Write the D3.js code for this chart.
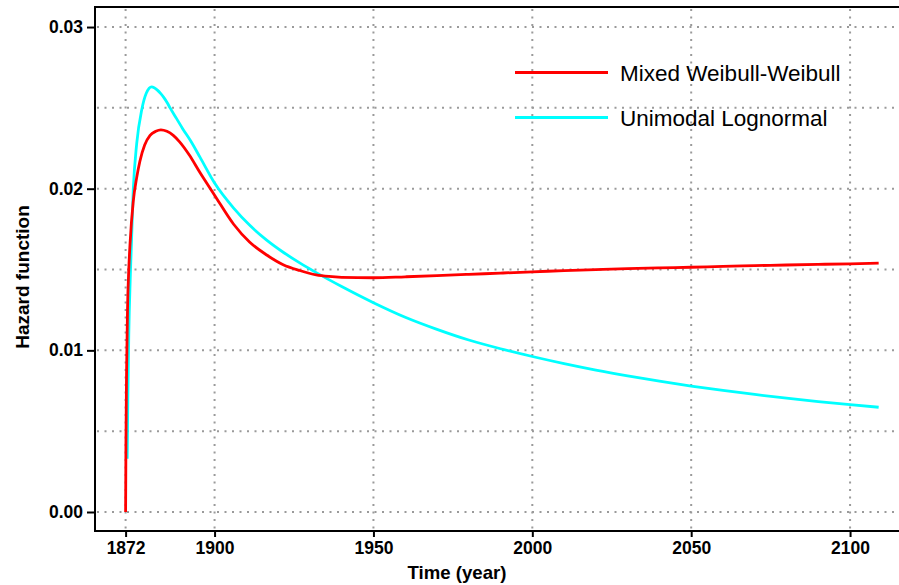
<!DOCTYPE html>
<html>
<head>
<meta charset="utf-8">
<script src="https://cdn.jsdelivr.net/npm/d3@7"></script>
<style>
  html, body { margin: 0; padding: 0; background: #fff; }
  svg { display: block; font-family: "Liberation Sans", Arial, sans-serif; }
</style>
</head>
<body>
<svg id="chart" width="899" height="585"></svg>
<script>
// ---- data ----
const seriesNames = ["Mixed Weibull-Weibull", "Unimodal Lognormal"];

const weibullYears  = [1872, 1872.1, 1872.3, 1872.6, 1873, 1873.4, 1874.4, 1875.5, 1876.5, 1878, 1879.7, 1881.5, 1883.1, 1885, 1887, 1889, 1892, 1895.4, 1900, 1906, 1911, 1916.4, 1921.6, 1926.8, 1932, 1936, 1940, 1950, 1960, 1970, 1980, 1990, 2000, 2010, 2020, 2030, 2040, 2050, 2060, 2070, 2080, 2090, 2100, 2109];
const weibullValues = [0, 0.004, 0.0085, 0.0125, 0.0150, 0.0166, 0.0192, 0.0207, 0.0217, 0.0227, 0.0233, 0.02355, 0.02364, 0.02355, 0.0233, 0.0229, 0.0221, 0.0210, 0.0196, 0.0178, 0.0167, 0.0159, 0.0153, 0.01494, 0.01467, 0.01457, 0.01452, 0.01449, 0.01455, 0.01462, 0.0147, 0.01478, 0.01486, 0.01493, 0.0150, 0.01506, 0.0151, 0.01514, 0.0152, 0.01524, 0.01528, 0.01532, 0.01535, 0.01539];

const lognormYears  = [1872.5, 1872.7, 1873, 1873.5, 1874.4, 1875.5, 1877.1, 1878.5, 1880.2, 1881, 1882, 1883, 1884, 1885, 1886, 1888, 1890, 1892.5, 1895.4, 1900, 1906, 1911, 1916.4, 1921.6, 1926.8, 1932, 1940, 1950, 1960, 1970, 1980, 1990, 2000, 2010, 2020, 2030, 2040, 2050, 2060, 2070, 2080, 2090, 2100, 2109];
const lognormValues = [0.0033, 0.007, 0.011, 0.0147, 0.0199, 0.0228, 0.0249, 0.0259, 0.0263, 0.02625, 0.0261, 0.0259, 0.02565, 0.02535, 0.0250, 0.02435, 0.0237, 0.02295, 0.02195, 0.02035, 0.0188, 0.01775, 0.01682, 0.01607, 0.01541, 0.01481, 0.01395, 0.01295, 0.01205, 0.0113, 0.01064, 0.0101, 0.00962, 0.00918, 0.00878, 0.00842, 0.00809, 0.00779, 0.00752, 0.00727, 0.00704, 0.00683, 0.00664, 0.00648];

const xTicks = [1872, 1900, 1950, 2000, 2050, 2100];
const yTicks = [0, 0.01, 0.02, 0.03];
const yTickLabels = ["0.00", "0.01", "0.02", "0.03"];
const yGrid = [0, 0.005, 0.01, 0.015, 0.02, 0.025, 0.03];

// ---- layout ----
const svg = d3.select("#chart");
const pLeft = 95, pRight = 899, pTop = 7, pBottom = 531;

const x = d3.scaleLinear().domain([1862.37, 2115.4]).range([pLeft, pRight]);
const y = d3.scaleLinear().domain([-0.001175, 0.03124]).range([pBottom, pTop]);

// grid
const gridColor = "#9a9a9a";
svg.append("g").selectAll("line").data(yGrid).join("line")
  .attr("x1", pLeft + 2).attr("x2", pRight)
  .attr("y1", d => y(d)).attr("y2", d => y(d))
  .attr("stroke", gridColor).attr("stroke-width", 2)
  .attr("stroke-dasharray", "2,5.5");
svg.append("g").selectAll("line").data(xTicks).join("line")
  .attr("x1", d => x(d)).attr("x2", d => x(d))
  .attr("y1", pTop + 2).attr("y2", pBottom)
  .attr("stroke", gridColor).attr("stroke-width", 2)
  .attr("stroke-dasharray", "2,5.5");

// axes
const xAxis = d3.axisBottom(x).tickValues(xTicks).tickSize(6).tickPadding(5).tickFormat(d3.format("d"));
const gx = svg.append("g").attr("transform", `translate(0,${pBottom})`).call(xAxis);
const yAxis = d3.axisLeft(y).tickValues(yTicks).tickSize(8).tickPadding(4).tickFormat((d, i) => yTickLabels[i]);
const gy = svg.append("g").attr("transform", `translate(${pLeft},0)`).call(yAxis);

[gx, gy].forEach(g => {
  g.select(".domain").remove();
  g.selectAll(".tick line").attr("stroke", "#000").attr("stroke-width", 2);
  g.selectAll(".tick text").attr("fill", "#000")
    .style("font-size", "17.5px").style("font-weight", "bold")
    .style("font-family", "'Liberation Sans', Arial, sans-serif");
});

// frame: left, bottom, top
svg.append("line").attr("x1", pLeft).attr("x2", pLeft).attr("y1", pTop).attr("y2", pBottom)
  .attr("stroke", "#000").attr("stroke-width", 2);
svg.append("line").attr("x1", pLeft - 1).attr("x2", pRight).attr("y1", pBottom).attr("y2", pBottom)
  .attr("stroke", "#000").attr("stroke-width", 2);
svg.append("line").attr("x1", pLeft - 1).attr("x2", pRight).attr("y1", pTop).attr("y2", pTop)
  .attr("stroke", "#000").attr("stroke-width", 2);

// clip
svg.append("clipPath").attr("id", "plotclip").append("rect")
  .attr("x", pLeft + 1).attr("y", pTop + 1).attr("width", pRight - pLeft).attr("height", pBottom - pTop - 1);

const line = d3.line().x(d => x(d[0])).y(d => y(d[1])).curve(d3.curveMonotoneX);
const series = [
  { name: seriesNames[0], color: "#ff0000", pts: d3.zip(weibullYears, weibullValues) },
  { name: seriesNames[1], color: "#00ffff", pts: d3.zip(lognormYears, lognormValues) }
];
const plot = svg.append("g").attr("clip-path", "url(#plotclip)");
[series[1], series[0]].forEach(s => {
  plot.append("path").datum(s.pts)
    .attr("d", line).attr("fill", "none")
    .attr("stroke", s.color).attr("stroke-width", 2.8)
    .attr("stroke-linejoin", "round");
});

// legend
const legend = svg.append("g");
series.forEach((s, i) => {
  const ly = 72.5 + i * 45;
  legend.append("line").attr("x1", 515).attr("x2", 608).attr("y1", ly).attr("y2", ly)
    .attr("stroke", s.color).attr("stroke-width", 2.8);
  legend.append("text").attr("x", 620).attr("y", ly).attr("dy", "0.36em")
    .style("font-size", "22.5px").attr("fill", "#000").text(s.name);
});

// axis titles
svg.append("text").attr("x", 457).attr("y", 579).attr("text-anchor", "middle")
  .style("font-size", "18.6px").style("font-weight", "bold").text("Time (year)");
svg.append("text").attr("transform", "translate(29,277) rotate(-90)").attr("text-anchor", "middle")
  .style("font-size", "19px").style("font-weight", "bold").text("Hazard function");
</script>
</body>
</html>
